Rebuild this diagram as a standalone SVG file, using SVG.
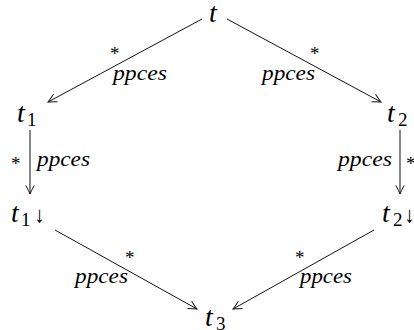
<svg xmlns="http://www.w3.org/2000/svg" width="414" height="330" viewBox="0 0 414 330">
<defs>
<marker id="ah" markerUnits="userSpaceOnUse" markerWidth="14" markerHeight="14" viewBox="-10 -7 12 14" refX="0" refY="0" orient="auto">
<path d="M-8.5,-4.2 Q-3,-1.2 0,0 Q-3,1.2 -8.5,4.2" fill="none" stroke="#111" stroke-width="1"/>
</marker>
</defs>
<g id="connectors">
<g fill="none" stroke="#111" stroke-width="1" marker-end="url(#ah)">
<line x1="202" y1="19" x2="48" y2="102"/>
<line x1="227" y1="19" x2="381" y2="102"/>
<line x1="30" y1="130" x2="30" y2="194"/>
<line x1="400" y1="130" x2="400" y2="194"/>
<line x1="55" y1="230" x2="197" y2="309"/>
<line x1="374" y1="230" x2="233" y2="309"/>
</g>
<g font-family="Times New Roman, serif" font-size="19" fill="#000">
<text x="110" y="60">*</text>
<text x="310" y="60">*</text>
<text x="11" y="170">*</text>
<text x="406" y="170">*</text>
<text x="125" y="264">*</text>
<text x="295" y="264">*</text>
</g>
<g font-family="Times New Roman, serif" font-style="italic" font-size="22" fill="#000">
<text x="113" y="80" textLength="54" lengthAdjust="spacingAndGlyphs">ppces</text>
<text x="262" y="80" textLength="53" lengthAdjust="spacingAndGlyphs">ppces</text>
<text x="37" y="166" textLength="53" lengthAdjust="spacingAndGlyphs">ppces</text>
<text x="338" y="166" textLength="54" lengthAdjust="spacingAndGlyphs">ppces</text>
<text x="75" y="283" textLength="53" lengthAdjust="spacingAndGlyphs">ppces</text>
<text x="300" y="283" textLength="52" lengthAdjust="spacingAndGlyphs">ppces</text>
</g>
</g>
<g font-family="Times New Roman, serif" fill="#000">
<g id="t"><text font-style="italic" font-size="28" x="209" y="22">t</text></g>
<g id="t1"><text font-style="italic" font-size="28" x="17" y="122">t</text><text font-size="19" x="27" y="126">1</text></g>
<g id="t2"><text font-style="italic" font-size="28" x="387" y="122">t</text><text font-size="19" x="398" y="126">2</text></g>
<g id="t1d"><text font-style="italic" font-size="28" x="11" y="222">t</text><text font-size="19" x="21" y="226">1</text><text font-size="22" x="34" y="222">↓</text></g>
<g id="t2d"><text font-style="italic" font-size="28" x="382" y="222">t</text><text font-size="19" x="393" y="226">2</text><text font-size="22" x="404" y="222">↓</text></g>
<g id="t3"><text font-style="italic" font-size="28" x="205" y="326">t</text><text font-size="19" x="216" y="330">3</text></g>
</g>
</svg>
